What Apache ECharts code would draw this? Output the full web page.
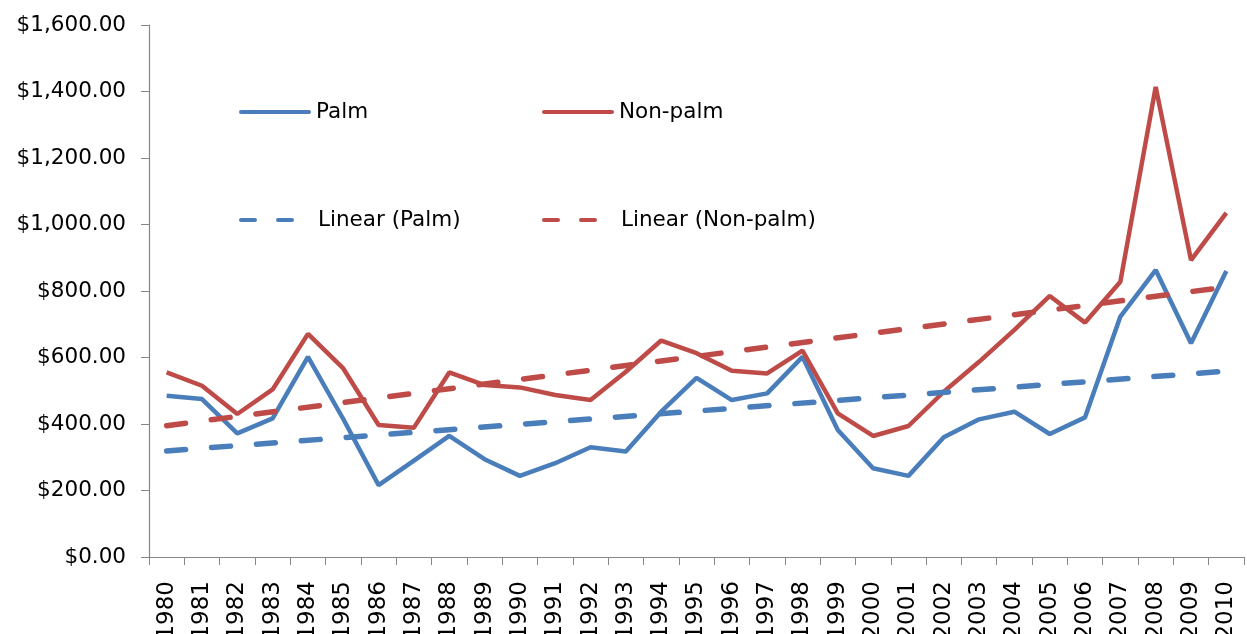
<!DOCTYPE html>
<html>
<head>
<meta charset="utf-8">
<script src="https://cdn.jsdelivr.net/npm/echarts@6/dist/echarts.min.js"></script>
<style>
  html, body { margin: 0; padding: 0; background: #fff; }
  #chart { width: 1247px; height: 634px; }
</style>
</head>
<body>
<div id="chart"></div>
<script>
var years = ['1980','1981','1982','1983','1984','1985','1986','1987','1988','1989',
  '1990','1991','1992','1993','1994','1995','1996','1997','1998','1999',
  '2000','2001','2002','2003','2004','2005','2006','2007','2008','2009','2010'];

var palm = [485, 475, 372, 417, 602, 415, 216, 290, 364, 294,
  244, 282, 330, 317, 437, 539, 472, 492, 602, 382,
  267, 244, 360, 414, 437, 370, 420, 723, 863, 643, 860];

var nonPalm = [555, 515, 430, 504, 671, 567, 397, 389, 555, 517,
  510, 487, 472, 557, 651, 613, 560, 552, 621, 432,
  364, 394, 497, 587, 683, 785, 705, 828, 1414, 893, 1035];

// trend line end points
var palmTrend = [['1980', 319], ['2010', 559]];
var nonPalmTrend = [['1980', 395], ['2010', 812]];

var blue = '#4A7EBB';
var red = '#BE4B48';
var font = 'DejaVu Sans';

var solidIcon = 'path://M2,0 L70,0 A2,2 0 0 1 70,4 L2,4 A2,2 0 0 1 2,0 Z';
var dashIcon = 'path://M2,0 L16,0 A2,2 0 0 1 16,4 L2,4 A2,2 0 0 1 2,0 Z M39,0 L53,0 A2,2 0 0 1 53,4 L39,4 A2,2 0 0 1 39,0 Z';

function money(v) {
  var s = v.toFixed(2);
  var parts = s.split('.');
  parts[0] = parts[0].replace(/\B(?=(\d{3})+(?!\d))/g, ',');
  return '$' + parts.join('.');
}

function legendAt(name, left, top, dashed) {
  return {
    data: [{ name: name, icon: dashed ? dashIcon : solidIcon }],
    left: left,
    top: top,
    padding: 0,
    itemWidth: dashed ? 55 : 72,
    itemHeight: 4.5,
    itemGap: 0,
    textStyle: {
      fontFamily: font,
      fontSize: 21.5,
      lineHeight: 24,
      color: '#000',
      padding: dashed ? [0, 0, 0, 19] : 0
    },
    selectedMode: false
  };
}

var myChart = echarts.init(document.getElementById('chart'));
var option = {
  animation: false,
  grid: { left: 149, right: 3, top: 25, bottom: 77, containLabel: false, outerBoundsMode: 'none' },
  legend: [
    legendAt('Palm', 239, 100, false),
    legendAt('Non-palm', 542, 100, false),
    legendAt('Linear (Palm)', 239, 208, true),
    legendAt('Linear (Non-palm)', 542, 208, true)
  ],
  xAxis: {
    type: 'category',
    data: years,
    boundaryGap: true,
    axisLine: { lineStyle: { color: '#868686', width: 1.2 } },
    axisTick: { show: true, interval: 0, length: 8, lineStyle: { color: '#868686' } },
    axisLabel: {
      interval: 0,
      rotate: 90,
      margin: 24,
      fontFamily: font,
      fontSize: 23,
      color: '#000'
    }
  },
  yAxis: {
    type: 'value',
    min: 0,
    max: 1600,
    interval: 200,
    axisLine: { show: true, lineStyle: { color: '#868686', width: 1.2 } },
    axisTick: { show: true, length: 8, lineStyle: { color: '#868686' } },
    splitLine: { show: false },
    axisLabel: {
      margin: 23,
      fontFamily: font,
      fontSize: 21.5,
      color: '#000',
      formatter: money
    }
  },
  series: [
    {
      name: 'Palm',
      type: 'line',
      data: palm,
      symbol: 'none',
      lineStyle: { color: blue, width: 4.5 },
      itemStyle: { color: blue }
    },
    {
      name: 'Non-palm',
      type: 'line',
      data: nonPalm,
      symbol: 'none',
      lineStyle: { color: red, width: 4.5 },
      itemStyle: { color: red }
    },
    {
      name: 'Linear (Palm)',
      type: 'line',
      data: palmTrend,
      symbol: 'none',
      lineStyle: { color: blue, width: 5.5, type: [19, 26], cap: 'round' },
      itemStyle: { color: blue }
    },
    {
      name: 'Linear (Non-palm)',
      type: 'line',
      data: nonPalmTrend,
      symbol: 'none',
      lineStyle: { color: red, width: 5.5, type: [19, 26], cap: 'round' },
      itemStyle: { color: red }
    }
  ]
};
myChart.setOption(option);
</script>
</body>
</html>
